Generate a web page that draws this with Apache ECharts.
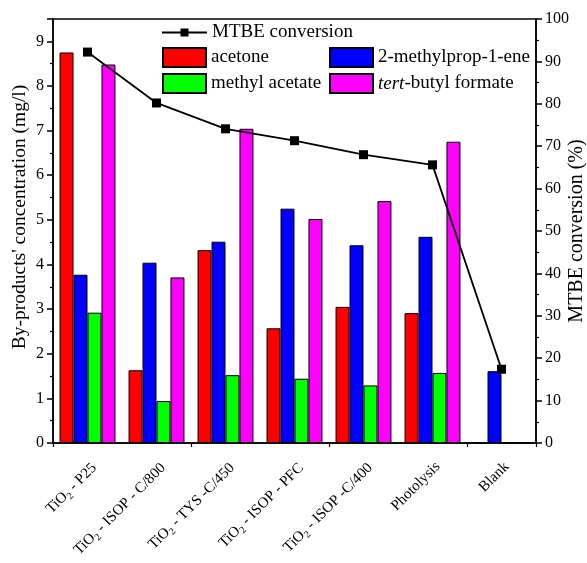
<!DOCTYPE html>
<html><head><meta charset="utf-8">
<script src="https://cdn.jsdelivr.net/npm/echarts@6/dist/echarts.min.js"></script>
<style>html,body{margin:0;padding:0;background:#fff;overflow:hidden}#c{width:587px;height:563px}</style>
</head><body><div id="c"></div>
<script>
const categories = ['TiO2 - P25','TiO2 - ISOP - C/800','TiO2 - TYS -C/450','TiO2 - ISOP - PFC','TiO2 - ISOP -C/400','Photolysis','Blank'];
const acetone = [8.75, 1.63, 4.32, 2.57, 3.05, 2.91, 0];
const methylpropene = [3.77, 4.04, 4.51, 5.25, 4.43, 4.62, 1.61];
const methylAcetate = [2.92, 0.94, 1.52, 1.44, 1.29, 1.57, 0];
const tertButylFormate = [8.48, 3.71, 7.04, 5.02, 5.42, 6.75, 0];
const mtbeConversion = [92.2, 80.2, 74.1, 71.3, 68.0, 65.6, 17.4];
const leftTicks = [0,1,2,3,4,5,6,7,8,9];
const rightTicks = [0,10,20,30,40,50,60,70,80,90,100];

const F = 'Liberation Serif, Times New Roman, serif';
const chart = echarts.init(document.getElementById('c'));
function catLabel(v){
  if (v.indexOf('TiO2') === 0) return '{a|TiO}{s|2}{a|' + v.slice(4) + '}';
  return '{a|' + v + '}';
}
function bar(name, data, color){
  return {name, type:'bar', data, barGap:0, barCategoryGap:'19%',
    itemStyle:{color, borderColor:'#000', borderWidth:1}, xAxisIndex:0, yAxisIndex:0};
}
const legText = {fontFamily:F, fontSize:19, color:'#000'};
chart.setOption({
  animation:false,
  textStyle:{fontFamily:F},
  grid:{left:53, right:51, top:19, bottom:120, show:true, borderColor:'#000', borderWidth:1.5,
        containLabel:false, outerBoundsMode:'none'},
  legend:[
    {data:['MTBE conversion'], left:161, top:23, padding:0, itemWidth:45, itemHeight:10, itemGap:0,
     textStyle:legText},
    {data:[{name:'acetone', icon:'rect'},{name:'methyl acetate', icon:'rect'}], orient:'vertical', left:162, top:47, padding:0,
     itemWidth:43, itemHeight:19, itemGap:5, textStyle:legText},
    {data:[{name:'2-methylprop-1-ene', icon:'rect'},{name:'tert-butyl formate', icon:'rect'}], orient:'vertical', left:329, top:47, padding:0,
     itemWidth:43, itemHeight:19, itemGap:5,
     formatter: n => n === 'tert-butyl formate' ? '{i|tert}-butyl formate' : n,
     textStyle:{fontFamily:F, fontSize:19, color:'#000', rich:{i:{fontStyle:'italic', fontFamily:F, fontSize:19, color:'#000'}}}}
  ],
  xAxis:[
    {type:'category', data:categories, position:'bottom',
     axisLine:{lineStyle:{color:'#000', width:1.5}},
     axisTick:{alignWithLabel:true, length:6, lineStyle:{color:'#000', width:1.5}},
     axisLabel:{rotate:45, margin:16, verticalAlign:'top', color:'#000', formatter:catLabel, interval:0,
       rich:{a:{fontFamily:F, fontSize:15, color:'#000'}, s:{fontFamily:F, fontSize:10, color:'#000', verticalAlign:'bottom', padding:[9,0,0,0]}}}},
    {type:'category', data:categories, position:'bottom',
     axisLine:{show:false}, axisLabel:{show:false},
     axisTick:{show:true, length:4, lineStyle:{color:'#000', width:1.2}}}
  ],
  yAxis:[
    {type:'value', min:0, max:9.5, interval:1, position:'left',
     name:"By-products' concentration (mg/l)", nameLocation:'middle', nameGap:23, nameRotate:90, nameMoveOverlap:false,
     nameTextStyle:{fontFamily:F, fontSize:19.5, color:'#000', padding:[0,0,0,28]},
     axisLine:{show:true, lineStyle:{color:'#000', width:1.5}},
     axisTick:{show:true, length:6, lineStyle:{color:'#000', width:1.5}},
     minorTick:{show:true, splitNumber:2, length:3, lineStyle:{color:'#000', width:1.2}},
     splitLine:{show:false},
     axisLabel:{color:'#000', fontFamily:F, fontSize:16, margin:9,
       formatter: v => leftTicks.indexOf(v) >= 0 ? String(v) : ''}},
    {type:'value', min:0, max:100, interval:10, position:'right',
     name:'MTBE conversion (%)', nameLocation:'middle', nameGap:31, nameRotate:90, nameMoveOverlap:false,
     nameTextStyle:{fontFamily:F, fontSize:20, color:'#000'},
     axisLine:{show:true, lineStyle:{color:'#000', width:1.5}},
     axisTick:{show:true, length:6, lineStyle:{color:'#000', width:1.5}},
     minorTick:{show:true, splitNumber:2, length:3, lineStyle:{color:'#000', width:1.2}},
     splitLine:{show:false},
     axisLabel:{color:'#000', fontFamily:F, fontSize:16, margin:9,
       formatter: v => rightTicks.indexOf(v) >= 0 ? String(v) : ''}}
  ],
  series:[
    bar('acetone', acetone, '#ff0000'),
    bar('2-methylprop-1-ene', methylpropene, '#0000ff'),
    bar('methyl acetate', methylAcetate, '#00ff00'),
    bar('tert-butyl formate', tertButylFormate, '#ff00ff'),
    {name:'MTBE conversion', type:'line', data:mtbeConversion, xAxisIndex:0, yAxisIndex:1,
     symbol:'rect', symbolSize:9, z:5,
     lineStyle:{color:'#000', width:1.8}, itemStyle:{color:'#000'}}
  ]
});
</script></body></html>
